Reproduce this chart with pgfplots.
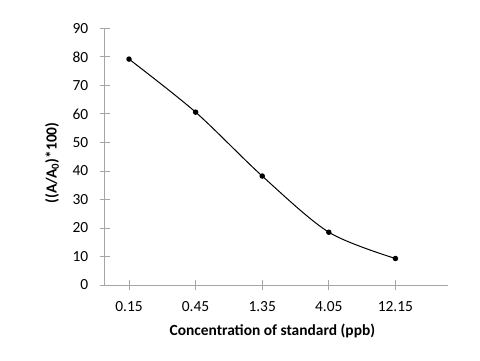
\documentclass[border=0pt]{standalone}
\usepackage{fontspec}
\setmainfont{Carlito}
\usepackage{pgfplots}
\pgfplotsset{compat=1.18}
\begin{document}
\begin{tikzpicture}[x=1bp,y=1bp]
\path (0,0) rectangle (480,360);
\begin{axis}[
  at={(104.7bp,75bp)}, anchor=south west,
  scale only axis, width=343.3bp, height=256.7bp,
  xmin=-0.365, xmax=4.79, ymin=0, ymax=90,
  axis lines*=left,
  xtick={0,1,2,3,4}, xticklabels={0.15,0.45,1.35,4.05,12.15},
  ytick={0,10,...,90},
  tick align=center, major tick length=10bp,
  axis line style={draw=black!35, line width=0.8bp},
  tick style={draw=black!35, line width=0.8bp},
  font=\fontsize{15.5}{18}\selectfont,
  ticklabel style={font=\fontsize{15.5}{18}\selectfont},
  /pgf/number format/assume math mode=true,
  yticklabel style={xshift=-8bp},
  xticklabel style={yshift=-8bp},
  xlabel={\bfseries Concentration of standard (ppb)},
  ylabel={\bfseries ((A/A\textsubscript{0})*100)},
  xlabel style={at={(axis description cs:0.5,0)}, anchor=center, yshift=-46bp, xshift=-4bp},
  ylabel style={at={(axis description cs:-0.153,0.475)}, anchor=center, rotate=0},
  clip=false,
]
\addplot[black, line width=1bp, smooth, mark=*, mark size=2.2bp] coordinates {
  (0,79.2) (1,60.6) (2,38.2) (3,18.5) (4,9.3)
};
\end{axis}
\end{tikzpicture}
\end{document}
